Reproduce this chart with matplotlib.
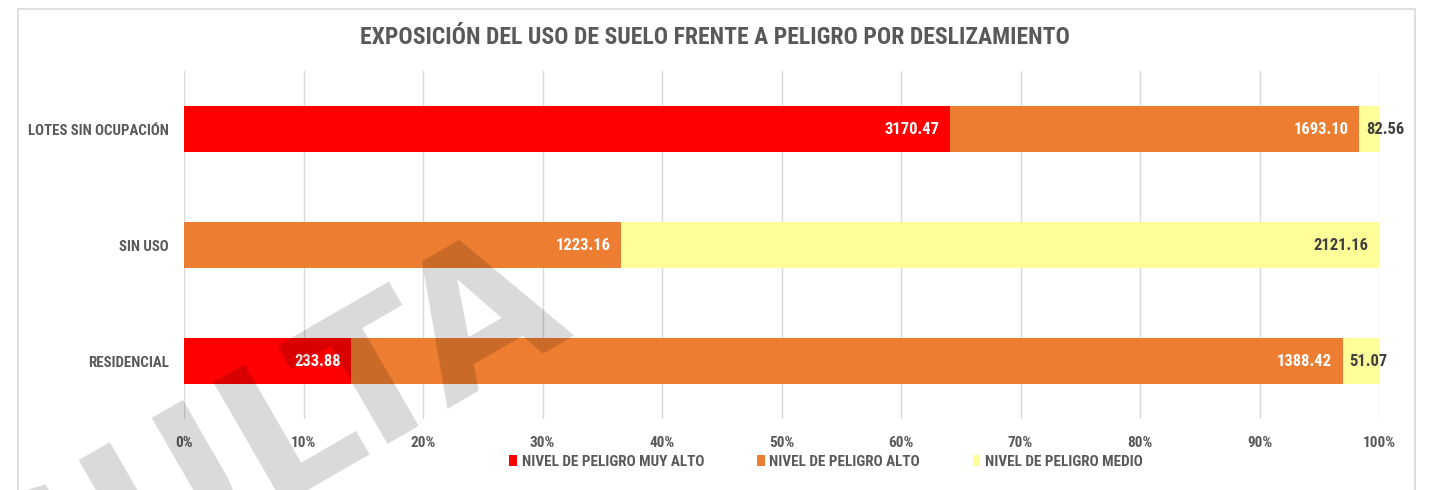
import numpy as np
import matplotlib
matplotlib.use("Agg")
from matplotlib import pyplot as plt
from matplotlib.patches import Rectangle, Patch

# data
categories = ["RESIDENCIAL", "SIN USO", "LOTES SIN OCUPACIÓN"]
series_names = ["NIVEL DE PELIGRO MUY ALTO", "NIVEL DE PELIGRO ALTO", "NIVEL DE PELIGRO MEDIO"]
muy_alto = [233.88, 0.0, 3170.47]
alto = [1388.42, 1223.16, 1693.10]
medio = [51.07, 2121.16, 82.56]
xticks = np.arange(0, 1.01, 0.1)

colors = ["#FF0000", "#ED7D31", "#FFFF99"]
label_colors = ["white", "white", "#404040"]
gray = "#595959"

plt.rcParams['font.family'] = ['Liberation Sans Narrow', 'Roboto Condensed', 'DejaVu Sans']
plt.rcParams['font.weight'] = 'bold'

fig = plt.figure(figsize=(14.3, 4.9), dpi=100)
ax = fig.add_axes([184/1430, 1 - 419/490, (1379 - 184)/1430, 348/490])

# light frame around the chart area
fig.patches.append(Rectangle((18/1430, -0.1), (1415 - 18)/1430, 1.1 - 9/490,
                             transform=fig.transFigure, fill=False,
                             edgecolor="#d9d9d9", lw=1.2))

values = np.array([muy_alto, alto, medio])
totals = values.sum(axis=0)
shares = values / totals
y = np.arange(len(categories))

left = np.zeros(len(categories))
for k in range(len(series_names)):
    ax.barh(y, shares[k], left=left, height=0.4, color=colors[k],
            label=series_names[k], zorder=2)
    for i in range(len(categories)):
        if values[k, i] <= 0:
            continue
        txt = f"{values[k, i]:.2f}"
        end = left[i] + shares[k, i]
        if shares[k, i] < 0.035:
            # too narrow to hold the label: let it run past the bar
            ax.annotate(txt, (left[i], y[i]), xytext=(5, 0), textcoords="offset points",
                        ha="left", va="center", fontsize=12, color=label_colors[k],
                        fontweight="bold", zorder=4)
        else:
            ax.annotate(txt, (end, y[i]), xytext=(-7.5, 0), textcoords="offset points",
                        ha="right", va="center", fontsize=12, color=label_colors[k],
                        fontweight="bold", zorder=4)
    left = left + shares[k]

ax.set_xlim(0, 1)
ax.set_ylim(-0.5, 2.5)
ax.set_xticks(xticks)
ax.set_xticklabels([f"{int(round(t * 100))}%" for t in xticks])
ax.set_yticks(y)
ax.set_yticklabels(categories)
ax.tick_params(axis="both", length=0, labelsize=11, labelcolor=gray)
ax.tick_params(axis="y", labelsize=10.7, pad=11)
ax.tick_params(axis="x", pad=12)
for lab in ax.get_xticklabels() + ax.get_yticklabels():
    lab.set_fontweight("bold")
ax.grid(axis="x", color="#d9d9d9", lw=1, zorder=0)
for s in ax.spines.values():
    s.set_visible(False)

fig.text(0.4997, 1 - 37/490, "EXPOSICIÓN DEL USO DE SUELO FRENTE A PELIGRO POR DESLIZAMIENTO",
         ha="center", va="center", fontsize=17, fontweight="bold", color=gray)

handles = [Patch(facecolor=c) for c in colors]
fig.legend(handles, series_names, loc="center", bbox_to_anchor=(826/1430, 1 - 462/490),
           ncol=3, frameon=False, labelcolor=gray,
           handlelength=0.5, handleheight=0.7, handletextpad=0.3, columnspacing=3.5,
           prop={"weight": "bold", "size": 10.9})

# watermark
fig.text(575/1430, 1 - 330/490, "CONSULTA", rotation=30, rotation_mode="anchor",
         ha="right", va="baseline", fontsize=138, fontweight="bold",
         family="DejaVu Sans", color="black", alpha=0.15, zorder=10)

fig.savefig("out.png", dpi=100)
